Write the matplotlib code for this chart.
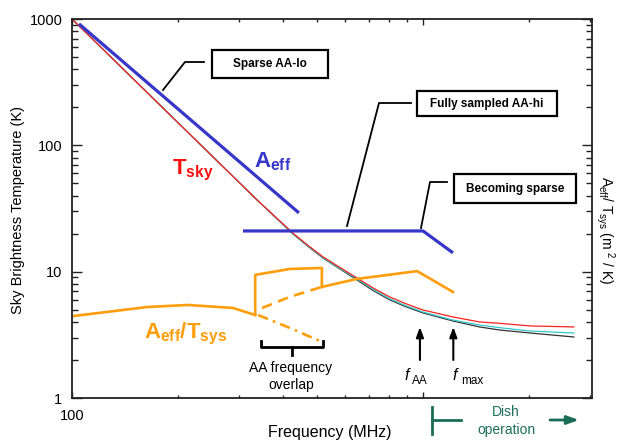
import numpy as np
import matplotlib
matplotlib.use("Agg")
import matplotlib.pyplot as plt
from matplotlib.ticker import FixedLocator, FixedFormatter, LogLocator, NullFormatter
from matplotlib.patches import Rectangle
from matplotlib.lines import Line2D

plt.rcParams['font.family'] = ['Liberation Sans', 'DejaVu Sans']
plt.rcParams['mathtext.fontset'] = 'custom'
plt.rcParams['mathtext.rm'] = 'Liberation Sans'
plt.rcParams['mathtext.bf'] = 'Liberation Sans:bold'
plt.rcParams['mathtext.it'] = 'Liberation Sans:italic'

# system temperature curves (K) vs frequency (MHz)
freq_sys = [100, 200, 336.6, 426, 467, 519, 580, 648, 720, 804, 890, 1000, 1217, 1450, 1656, 2018, 2690]
tsys_red = [1000, 152, 37.0, 20.2, 16.4, 13.1, 10.8, 8.93, 7.44, 6.31, 5.6, 4.97, 4.38, 4.0, 3.9, 3.72, 3.65]
tsys_cyan = [1000, 152, 37.0, 20.0, 16.2, 12.9, 10.6, 8.76, 7.25, 6.1, 5.4, 4.79, 4.14, 3.78, 3.6, 3.39, 3.27]
tsys_black = [1000, 152, 37.0, 19.9, 16.1, 12.8, 10.5, 8.6, 7.1, 5.98, 5.3, 4.71, 4.07, 3.65, 3.45, 3.27, 3.04]

# effective area (blue)
freq_aeff_lo = [104.7, 443]
aeff_lo = [915, 29.2]
freq_aeff_hi = [307, 1000, 1217]
aeff_hi = [21.0, 21.0, 14.1]

# Aeff/Tsys (orange)
freq_sens_lo = [101.3, 163.7, 214, 287.5, 332.6]
sens_lo = [4.46, 5.25, 5.45, 5.16, 4.54]
freq_sens_box = [332.6, 332.6, 417, 515, 515]
sens_box = [4.54, 9.43, 10.5, 10.7, 7.57]
freq_sens_hi = [515, 648, 962, 1217]
sens_hi = [7.57, 8.76, 10.1, 6.91]
freq_sens_hi_ext = [348, 417, 515]
sens_hi_ext = [5.16, 6.31, 7.57]
freq_sens_lo_ext = [339, 417, 515]
sens_lo_ext = [4.54, 3.59, 2.78]

f_aa = 980
f_max = 1220

W, H = 617, 442
fig = plt.figure(figsize=(W / 100, H / 100), dpi=100)
ax = fig.add_axes([72 / W, 1 - 398 / H, (592 - 72) / W, (398 - 19) / H])


def px(x, y):
    return x / W, 1 - y / H


blue = '#3636c8'
orange = '#ff9d0a'
green = '#1b6e55'

ax.plot(freq_sys, tsys_black, color='#333333', lw=0.9)
ax.plot(freq_sys, tsys_cyan, color='#33c8c8', lw=0.9)
ax.plot(freq_sys, tsys_red, color='#ff2020', lw=0.9)

ax.plot(freq_aeff_lo, aeff_lo, color=blue, lw=2.3, solid_capstyle='butt')
ax.plot(freq_aeff_hi, aeff_hi, color=blue, lw=2.3, solid_capstyle='butt')

ax.plot(freq_sens_lo, sens_lo, color=orange, lw=1.9)
ax.plot(freq_sens_box, sens_box, color=orange, lw=1.9)
ax.plot(freq_sens_hi, sens_hi, color=orange, lw=1.9)
ax.plot(freq_sens_hi_ext, sens_hi_ext, color=orange, lw=1.9, dashes=(4, 2.5))
ax.plot(freq_sens_lo_ext, sens_lo_ext, color=orange, lw=1.9, dashes=(4, 2, 1, 2))

for f in (f_aa, f_max):
    ax.annotate('', xy=(f, 3.65), xytext=(f, 2.0),
                arrowprops=dict(arrowstyle='-|>,head_length=0.6,head_width=0.22',
                                color='black', lw=1.5, shrinkA=0, shrinkB=0))

ax.set_xscale('log')
ax.set_yscale('log')
ax.set_xlim(100, 3030)
ax.set_ylim(1, 1000)

ax.xaxis.set_major_locator(FixedLocator([100, 1000]))
ax.xaxis.set_major_formatter(FixedFormatter(['100', '']))
ax.xaxis.set_minor_locator(LogLocator(base=10, subs=np.arange(2, 10)))
ax.xaxis.set_minor_formatter(NullFormatter())
ax.yaxis.set_major_locator(FixedLocator([1, 10, 100, 1000]))
ax.yaxis.set_major_formatter(FixedFormatter(['1', '10', '100', '1000']))
ax.yaxis.set_minor_locator(LogLocator(base=10, subs=np.arange(2, 10)))
ax.yaxis.set_minor_formatter(NullFormatter())

ax.tick_params(which='both', direction='in', top=True, right=True,
               color='#222222', width=1.0, labelsize=10.5)
ax.tick_params(axis='x', which='major', length=4.5, pad=8)
ax.tick_params(axis='x', which='minor', length=2.5)
ax.tick_params(axis='y', which='major', length=7.5, pad=7)
ax.tick_params(axis='y', which='minor', length=4)
for s in ax.spines.values():
    s.set_linewidth(1.3)
    s.set_color('#222222')

# axis titles
fig.text(*px(330, 433), 'Frequency (MHz)', ha='center', va='center', fontsize=11.5)
fig.text(*px(18, 210), 'Sky Brightness Temperature (K)', ha='center', va='center',
         rotation=90, fontsize=10.5)
fig.text(*px(605, 230), r'A$_{\rm eff}$/ T$_{\rm sys}$ (m $^{\rm 2}$ / K)', ha='center',
         va='center', rotation=270, fontsize=10)

# curve labels
fig.text(*px(172, 170), r'$\mathbf{T_{sky}}$', color='#ff1010', fontsize=16,
         ha='left', va='center')
fig.text(*px(254, 162), r'$\mathbf{A_{eff}}$', color=blue, fontsize=16,
         ha='left', va='center')
fig.text(*px(144, 334), r'$\mathbf{A_{eff}/T_{sys}}$', color=orange, fontsize=16,
         ha='left', va='center')

# annotation boxes with leader lines
boxes = [
    ((212, 50, 328, 78), 'Sparse AA-lo', [(204, 62), (185, 62), (163, 90)]),
    ((417, 91, 557, 116), 'Fully sampled AA-hi', [(411, 103), (379, 103), (347, 226)]),
    ((454, 174, 576, 203), 'Becoming sparse', [(447, 182), (430, 182), (421, 228)]),
]
for (x0, y0, x1, y1), label, leader in boxes:
    fx0, fy1 = px(x0, y1)
    fx1, fy0 = px(x1, y0)
    fig.patches.append(Rectangle((fx0, fy1), fx1 - fx0, fy0 - fy1, transform=fig.transFigure,
                                 fill=True, facecolor='white', edgecolor='black', lw=1.6))
    fig.text(*px((x0 + x1) / 2, (y0 + y1) / 2), label, ha='center', va='center',
             fontsize=8.5, fontweight='bold')
    lx = [px(p[0], p[1])[0] for p in leader]
    ly = [px(p[0], p[1])[1] for p in leader]
    fig.lines.append(Line2D(lx, ly, transform=fig.transFigure, color='black', lw=1.3))

# AA frequency overlap bracket
bx = [261, 261, 323, 323]
by = [341, 347, 347, 341]
fig.lines.append(Line2D([px(x, y)[0] for x, y in zip(bx, by)],
                        [px(x, y)[1] for x, y in zip(bx, by)],
                        transform=fig.transFigure, color='black', lw=2))
fig.lines.append(Line2D([px(292, 347)[0]] * 2, [px(292, 347)[1], px(292, 355)[1]],
                        transform=fig.transFigure, color='black', lw=2))
fig.text(*px(291, 368), 'AA frequency', ha='center', va='center', fontsize=10)
fig.text(*px(291, 385), 'overlap', ha='center', va='center', fontsize=10)

# f labels
fig.text(*px(407, 376), 'f', style='italic', fontsize=11.5, ha='center', va='center')
fig.text(*px(420, 381), 'AA', fontsize=8.5, ha='center', va='center')
fig.text(*px(455, 376), 'f', style='italic', fontsize=11.5, ha='center', va='center')
fig.text(*px(472, 381), 'max', fontsize=8.5, ha='center', va='center')

# Dish operation marker
fig.lines.append(Line2D([px(432, 407)[0]] * 2, [px(432, 407)[1], px(432, 434)[1]],
                        transform=fig.transFigure, color=green, lw=2))
fig.lines.append(Line2D([px(432, 420)[0], px(461, 420)[0]], [px(432, 420)[1]] * 2,
                        transform=fig.transFigure, color=green, lw=2))
fig.text(*px(506, 412), 'Dish', color=green, fontsize=10, ha='center', va='center')
fig.text(*px(506, 430), 'operation', color=green, fontsize=10, ha='center', va='center')
ax.annotate('', xy=px(579, 420), xytext=px(550, 420), xycoords='figure fraction',
            textcoords='figure fraction', annotation_clip=False,
            arrowprops=dict(arrowstyle='-|>,head_length=0.7,head_width=0.25',
                            color=green, lw=2, shrinkA=0, shrinkB=0))

fig.savefig('out.png', dpi=100)
